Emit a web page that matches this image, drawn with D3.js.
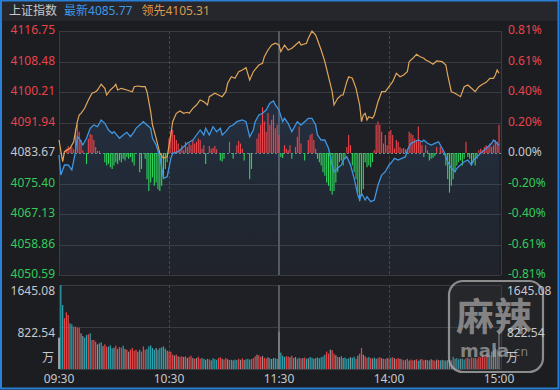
<!DOCTYPE html>
<html><head><meta charset="utf-8">
<script src="https://cdn.jsdelivr.net/npm/d3@7"></script>
<style>html,body{margin:0;padding:0;background:#1c1d21;overflow:hidden}svg{display:block}</style>
</head><body>
<svg id="c" width="560" height="390"></svg>
<script>
// ---------- data ----------
const titleName = "上证指数";
const lastLabel = "最新4085.77";
const leadLabel = "领先4105.31";
const prevClose = 4083.67;
const priceTicks = [4116.75, 4108.48, 4100.21, 4091.94, 4083.67, 4075.40, 4067.13, 4058.86, 4050.59];
const pctTicks = ["0.81%", "0.61%", "0.40%", "0.20%", "0.00%", "-0.20%", "-0.40%", "-0.61%", "-0.81%"];
const timeLabels = ["09:30", "10:30", "11:30", "14:00", "15:00"];
const timeIdx = [0, 60, 120, 180, 240];
const volTicks = ["1645.08", "822.54"];
const volTickVals = [1645.08, 822.54];
const volUnit = "万";

// index (blue) line: minute index, price
const indexMin = [0,1,3,5,7,9,10,11,13,15,17,19,21,23,25,27,29,30,33,35,37,39,41,42,44,46,48,50,51,53,55,57,59,61,62,65,68,70,73,77,79,80,82,84,86,88,89,91,93,95,97,100,102,104,106,107,109,111,113,115,117,118,120,122,123,125,127,129,130,132,134,136,138,140,141,143,145,147,149,150,152,154,155,157,159,161,163,164,165,167,168,170,172,174,176,178,180,181,183,185,187,189,190,192,194,196,198,199,201,203,205,207,208,210,212,214,216,217,219,221,223,225,226,228,230,232,234,236,237,239,240];
const indexVal = [4083.13,4077.70,4080.42,4080.42,4079.06,4084.02,4088.09,4087.66,4085.84,4087.66,4090.37,4091.26,4090.80,4092.62,4091.72,4089.91,4089.01,4089.45,4087.66,4088.55,4089.28,4088.09,4089.45,4090.37,4091.26,4092.16,4091.26,4090.37,4087.66,4085.84,4082.67,4076.81,4077.24,4082.23,4083.59,4084.02,4085.38,4086.30,4087.19,4089.91,4088.55,4090.37,4088.55,4090.80,4089.45,4090.37,4088.55,4089.45,4090.80,4091.26,4092.16,4092.62,4092.16,4088.09,4089.91,4092.16,4093.97,4094.43,4095.33,4097.15,4097.77,4096.69,4095.33,4092.16,4093.08,4091.72,4089.45,4091.26,4092.16,4091.26,4092.16,4093.08,4093.08,4091.26,4088.55,4087.19,4087.19,4084.94,4080.42,4078.60,4079.52,4080.42,4081.77,4082.67,4080.42,4076.81,4072.28,4070.93,4072.74,4070.93,4071.82,4070.47,4070.93,4074.99,4077.70,4078.60,4080.42,4080.88,4082.23,4081.77,4082.23,4082.67,4084.48,4086.30,4086.73,4087.19,4086.73,4087.19,4086.30,4085.84,4086.30,4086.73,4085.84,4084.02,4081.31,4079.52,4078.60,4079.52,4080.42,4081.31,4081.77,4080.42,4081.77,4082.67,4083.59,4084.48,4085.38,4086.30,4087.19,4086.30,4085.77];

// leading (orange) line: minute index, price
const leadMin = [0,2,3,6,8,10,11,12,14,16,18,20,21,23,25,26,28,30,31,32,34,37,40,41,43,45,47,48,50,51,53,55,57,59,61,62,64,66,68,70,71,73,75,77,79,81,82,85,87,89,91,92,94,96,98,100,102,104,106,109,111,112,114,116,118,120,121,123,125,127,129,131,132,135,136,138,140,141,143,145,147,149,150,152,154,155,157,158,160,162,164,165,166,167,168,169,171,172,174,176,178,180,182,184,186,188,190,191,193,195,197,199,200,202,204,206,209,211,212,214,216,219,221,223,225,227,229,231,233,235,237,238,239,240];
const leadVal = [4087.19,4081.31,4084.02,4084.94,4086.73,4092.16,4093.97,4094.43,4095.79,4098.04,4099.86,4100.29,4100.75,4102.30,4101.21,4099.40,4100.75,4101.65,4102.30,4100.75,4101.21,4100.75,4100.29,4101.65,4101.84,4101.65,4101.65,4100.29,4094.87,4091.26,4087.66,4083.59,4082.23,4082.67,4088.55,4092.16,4094.43,4095.06,4094.43,4094.71,4094.43,4095.79,4096.69,4098.04,4097.58,4096.69,4098.94,4099.86,4099.40,4098.94,4100.29,4102.57,4104.36,4103.92,4105.71,4106.18,4106.80,4103.46,4105.71,4107.53,4107.99,4109.78,4111.60,4112.95,4113.42,4112.95,4111.14,4112.95,4111.60,4112.06,4112.95,4113.85,4112.95,4113.42,4114.77,4116.75,4115.67,4114.31,4111.60,4108.43,4104.36,4100.29,4096.69,4098.50,4099.40,4099.40,4103.00,4104.36,4103.92,4101.21,4096.69,4092.16,4093.97,4094.43,4092.62,4093.51,4093.08,4093.97,4097.58,4100.29,4100.29,4101.65,4103.00,4105.28,4104.36,4104.82,4105.71,4108.43,4109.35,4110.43,4109.78,4109.35,4108.89,4108.43,4107.72,4108.62,4108.43,4107.53,4104.82,4100.29,4099.86,4098.94,4101.65,4102.11,4101.21,4100.29,4101.65,4102.30,4102.84,4103.92,4103.92,4104.82,4106.18,4105.31];

// red/green strength bars around the previous-close line
const strengthMin = [4,5,6,7,8,9,10,11,12,13,15,16,17,18,19,20,21,22,25,26,27,28,29,30,31,32,33,34,35,36,37,38,39,40,41,44,45,47,48,49,50,51,52,53,54,55,56,57,58,59,60,61,62,63,64,65,66,67,68,69,70,71,72,73,74,75,76,77,78,79,80,82,83,84,85,86,88,89,90,93,95,97,98,99,100,101,104,105,108,109,110,111,112,113,114,115,116,117,118,119,120,121,122,123,124,125,126,127,129,130,131,132,134,136,137,138,139,140,141,142,143,144,145,146,147,148,149,150,151,152,153,154,155,156,157,158,159,160,161,162,163,164,165,166,167,168,169,170,171,172,173,174,175,176,177,178,179,180,181,182,183,184,185,186,187,188,189,190,191,192,193,194,195,196,197,198,199,200,201,202,203,204,205,206,208,209,210,211,212,213,214,215,216,217,218,219,220,221,222,223,224,225,226,227,228,229,230,231,232,233,234,235,236,237,238,239,240];
const strengthVal = [4.3,7,5,6,3.7,24,28,21,12.7,2.7,-10.7,14,19,17.7,12.7,6,2,2,-9,-12.3,-10.7,-14,-15.7,-12.3,-9,-10.7,-7.3,-9,-5.7,-7.3,-4,-5.7,-4,-9,-12.3,-19,-15.7,-5.7,-25.7,-37.3,-29,-24,-32.3,-29,-35.7,-37.3,-32.3,-25.7,-15.7,-9,14.3,21,22.7,17.7,12.7,9.3,4.3,7.7,2.7,11,6,9.3,7.7,12.7,9.3,11,14.3,12.7,4.3,7.7,-10.7,7,4.3,5,7,3.7,-7.3,-8.3,-5.7,11,-5.7,7.7,11.7,9.3,4.3,-7.3,-25.7,-15.7,14.3,19.3,27.7,45,31,21,39.3,27.7,32.7,37.7,24.3,27.7,17.7,-4,-5,7.7,4.3,2.7,7.7,-5.7,6,16,26,9.3,-7.3,12.7,17.7,19.3,12.7,4.3,-5.7,-9,-12.3,-19,-22.3,-29,-32.3,-37.3,-40.7,-37.3,-29,-19,-9,-7.3,-12.3,-5.7,6,17.7,7.7,-12.3,-19,-25.7,-39,-47.3,-42.3,-35.7,-9,-14,-12.3,-14,-9,2.7,27.7,31,27.7,21,9.3,17.7,7.7,21,22.7,17.7,4.3,12.7,11,6,4.3,5,3.7,1.7,21,19.3,17.7,14.3,12.7,26,11,7.7,-4,7.7,2.7,-7.3,-5.7,-5,-3,6,6,2.7,-2.3,-12.3,-25.7,-39,-32.3,-25.7,-19,-12.3,-9,-7.3,-12.3,-5.7,11,-4,-5.7,-12.3,-9,-12.3,-5.7,2.7,4.3,2.7,6,7.7,6,9.3,6,7.7,12.7,11,27.7];

// volume per minute (万) and colour code: w=open, r=up, t=down, g=flat
const volVal = [613,1645,1253,993,1110,1057,895,875,829,829,809,809,699,646,613,666,679,699,568,568,535,483,503,523,450,483,437,437,464,405,417,456,392,431,417,456,392,378,339,378,411,358,378,339,378,339,443,378,392,443,462,411,378,411,378,411,424,443,398,359,339,339,280,265,280,248,240,248,235,248,215,240,260,215,200,215,240,
200,215,200,180,200,190,170,210,195,180,215,230,200,185,215,190,175,180,170,185,175,200,180,210,175,190,200,185,195,215,250,280,270,240,255,220,205,230,210,195,215,210,200,730,
320,260,235,250,245,230,260,215,235,200,220,205,215,225,200,210,235,220,200,215,225,210,230,245,280,340,300,380,370,300,270,240,230,250,215,225,200,210,230,220,240,200,260,300,410,280,250,220,235,215,205,225,200,215,230,210,200,195,215,205,220,230,210,195,215,200,
190,170,180,200,165,185,170,175,190,160,185,195,170,180,175,165,190,175,160,185,175,170,180,170,165,175,180,170,240,200,215,190,200,205,185,210,220,200,230,215,220,200,240,230,260,230,280,300,270,340,360,400,380,730];
const volDir = ("wttrrrttrrrrggttrtrrrgttgrrtttgrtrrtg" +
  "rgrrrrgtrrrtttttgtttttgrr" +
  "rgrgrrgrgrrgrgr" +
  "rttgtrgtttrrgrrgrtgttrgrgtttrrrgrrgrrgtgt" +
  "ttgtttrrgrtgrtrgrtgttgttttttrrgrrgrgtgtttgttrgrrgrrtrgtgrrgrrgrt" +
  "rgrrgrrtrgrrgrtgrrgrtgrrgrtgtgtgrtgttgttrgrrrgrrrrrrt").split("");

// ---------- drawing ----------
const svg = d3.select("#c");
const W = 560, H = 390;
const L = 59, R = 501;
const pTop = 31, pBot = 275, vTop = 285, vBot = 369;
const red = "#e9434b", green = "#33cc5a", gray = "#c6c8cc";

svg.append("rect").attr("width", W).attr("height", H).attr("fill", "#1c1d21");
svg.append("rect").attr("x", 0).attr("y", 0).attr("width", W).attr("height", 21).attr("fill", "#25272c");

const x = d3.scaleLinear().domain([0, 240]).range([L, R - 2]);
const y = d3.scaleLinear().domain([priceTicks[8], priceTicks[0]]).range([pBot, pTop]);
const yS = d3.scaleLinear().domain([-120, 120]).range([pBot, pTop]);
const yV = d3.scaleLinear().domain([0, volTickVals[0]]).range([vBot, vTop]);

// panels background
svg.append("rect").attr("x", L).attr("y", pTop).attr("width", R - L).attr("height", pBot - pTop).attr("fill", "#1f2025");
svg.append("rect").attr("x", L).attr("y", vTop).attr("width", R - L).attr("height", vBot - vTop).attr("fill", "#1f2025");

// grid lines price
const gridC = "#393b41";
svg.append("g").selectAll("line").data(priceTicks).join("line")
  .attr("x1", L).attr("x2", R).attr("y1", d => Math.round(y(d)) + 0.5).attr("y2", d => Math.round(y(d)) + 0.5)
  .attr("stroke-width", 1)
  .attr("stroke-dasharray", d => d === prevClose ? "2,2" : null)
  .attr("stroke", d => d === prevClose ? "#6f8a8c" : gridC);
// volume grid
svg.append("g").selectAll("line").data([volTickVals[0], volTickVals[1], 0]).join("line")
  .attr("x1", L).attr("x2", R).attr("y1", d => Math.round(yV(d)) + 0.5).attr("y2", d => Math.round(yV(d)) + 0.5)
  .attr("stroke", gridC);
// vertical lines
[[pTop, pBot], [vTop, vBot]].forEach(([a, b]) => {
  svg.append("line").attr("x1", L + 0.5).attr("x2", L + 0.5).attr("y1", a).attr("y2", b).attr("stroke", gridC);
  svg.append("line").attr("x1", R + 0.5).attr("x2", R + 0.5).attr("y1", a).attr("y2", b).attr("stroke", gridC);
  [60, 180].forEach(t => svg.append("line").attr("x1", Math.round(x(t)) + 0.5).attr("x2", Math.round(x(t)) + 0.5)
    .attr("y1", a).attr("y2", b).attr("stroke", "#44464c").attr("stroke-dasharray", "3,2"));
  svg.append("line").attr("x1", x(120)).attr("x2", x(120)).attr("y1", a).attr("y2", b)
    .attr("stroke", "#55585e").attr("stroke-width", 2);
});

// area under index line
const defs = svg.append("defs");
const gr = defs.append("linearGradient").attr("id", "ag").attr("x1", 0).attr("x2", 0).attr("y1", 0).attr("y2", 1);
gr.append("stop").attr("offset", "0%").attr("stop-color", "#3a7fd0").attr("stop-opacity", 0.16);
gr.append("stop").attr("offset", "100%").attr("stop-color", "#3a7fd0").attr("stop-opacity", 0.03);
const idxData = indexMin.map((m, i) => [m, indexVal[i]]);
const leadData = leadMin.map((m, i) => [m, leadVal[i]]);
svg.append("path").datum(idxData)
  .attr("d", d3.area().x(d => x(d[0])).y0(pBot).y1(d => y(d[1])))
  .attr("fill", "url(#ag)");

// strength bars
svg.append("g").selectAll("line").data(strengthMin.map((m, i) => [m, strengthVal[i]])).join("line")
  .attr("x1", d => x(d[0])).attr("x2", d => x(d[0]))
  .attr("y1", yS(0)).attr("y2", d => yS(d[1]))
  .attr("stroke", d => d[1] >= 0 ? "#f0444b" : "#2fd35b").attr("stroke-width", 1.1);

// lines
svg.append("path").datum(leadData)
  .attr("d", d3.line().x(d => x(d[0])).y(d => y(d[1])))
  .attr("fill", "none").attr("stroke", "#e0a65a").attr("stroke-width", 1.2);
svg.append("path").datum(idxData)
  .attr("d", d3.line().x(d => x(d[0])).y(d => y(d[1])))
  .attr("fill", "none").attr("stroke", "#3f95e0").attr("stroke-width", 1.3);

// volume bars
const vCol = {w: "#e8e8e8", r: "#ef4447", t: "#2aa6b2", g: "#8d8f93"};
svg.append("g").selectAll("rect").data(volVal).join("rect")
  .attr("x", (d, i) => x(i) - 0.6).attr("width", 1.2)
  .attr("y", d => yV(d)).attr("height", d => vBot - yV(d))
  .attr("fill", (d, i) => vCol[volDir[i]] || vCol.g);

// watermark
const wm = svg.append("g");
wm.append("rect").attr("x", 449).attr("y", 281).attr("width", 94).attr("height", 91).attr("rx", 14)
  .attr("fill", "rgba(70,70,74,0.18)").attr("stroke", "#b0b0b0").attr("stroke-opacity", 0.75).attr("stroke-width", 2.2);
wm.append("text").attr("x", 494).attr("y", 330).attr("text-anchor", "middle")
  .attr("font-family", "'Noto Sans CJK SC'").attr("font-weight", 700).attr("font-size", 38)
  .attr("fill", "#a8a8a8").attr("fill-opacity", 0.72).text("麻辣");
wm.append("text").attr("x", 460).attr("y", 357)
  .attr("font-family", "'DejaVu Sans'").attr("font-weight", 700).attr("font-size", 18)
  .attr("fill", "#a8a8a8").attr("fill-opacity", 0.72).text("mala");
wm.append("text").attr("x", 510).attr("y", 356)
  .attr("font-family", "'DejaVu Sans'").attr("font-size", 12)
  .attr("fill", "#a8a8a8").attr("fill-opacity", 0.72).text(".cn");

// axis labels
const fnt = "'Noto Sans', 'Noto Sans CJK SC', sans-serif";
const lab = (g) => g.attr("font-family", fnt).attr("font-size", 12).attr("dominant-baseline", "middle");
const colorFor = i => i < 4 ? red : (i === 4 ? gray : green);
svg.append("g").call(lab).selectAll("text").data(priceTicks).join("text")
  .attr("x", 55).attr("y", d => y(d)).attr("text-anchor", "end")
  .attr("fill", (d, i) => colorFor(i)).text(d => d.toFixed(2));
svg.append("g").call(lab).selectAll("text").data(pctTicks).join("text")
  .attr("x", 508).attr("y", (d, i) => y(priceTicks[i])).attr("text-anchor", "start")
  .attr("fill", (d, i) => colorFor(i)).text(d => d);
// volume labels
svg.append("g").call(lab).selectAll("text").data(volTickVals).join("text")
  .attr("x", 55).attr("y", d => yV(d) + 7).attr("text-anchor", "end").attr("fill", gray)
  .text((d, i) => volTicks[i]);
svg.append("g").call(lab).selectAll("text").data(volTickVals).join("text")
  .attr("x", 507).attr("y", d => yV(d) + 7).attr("text-anchor", "start").attr("fill", gray)
  .text((d, i) => volTicks[i]);
svg.append("text").call(lab).attr("x", 54).attr("y", 359).attr("text-anchor", "end").attr("fill", gray).text(volUnit);
svg.append("text").call(lab).attr("x", 506).attr("y", 359).attr("fill", gray).text(volUnit);
// time labels
svg.append("g").call(lab).selectAll("text").data(timeIdx).join("text")
  .attr("x", d => x(d)).attr("y", 380).attr("text-anchor", "middle").attr("fill", gray)
  .text((d, i) => timeLabels[i]);

// title
const tt = svg.append("text").attr("x", 9).attr("y", 12).attr("dominant-baseline", "middle")
  .attr("font-family", fnt).attr("font-size", 12);
tt.append("tspan").attr("fill", "#c8c9cc").text(titleName);
tt.append("tspan").attr("dx", 7).attr("fill", "#3d97e6").text(lastLabel);
tt.append("tspan").attr("dx", 9).attr("fill", "#d99a4e").text(leadLabel);

// frame
svg.append("rect").attr("x", 1).attr("y", 0.5).attr("width", W - 2.5).attr("height", H - 2)
  .attr("fill", "none").attr("stroke", "#2a80d6").attr("stroke-width", 2);
</script>
</body></html>
